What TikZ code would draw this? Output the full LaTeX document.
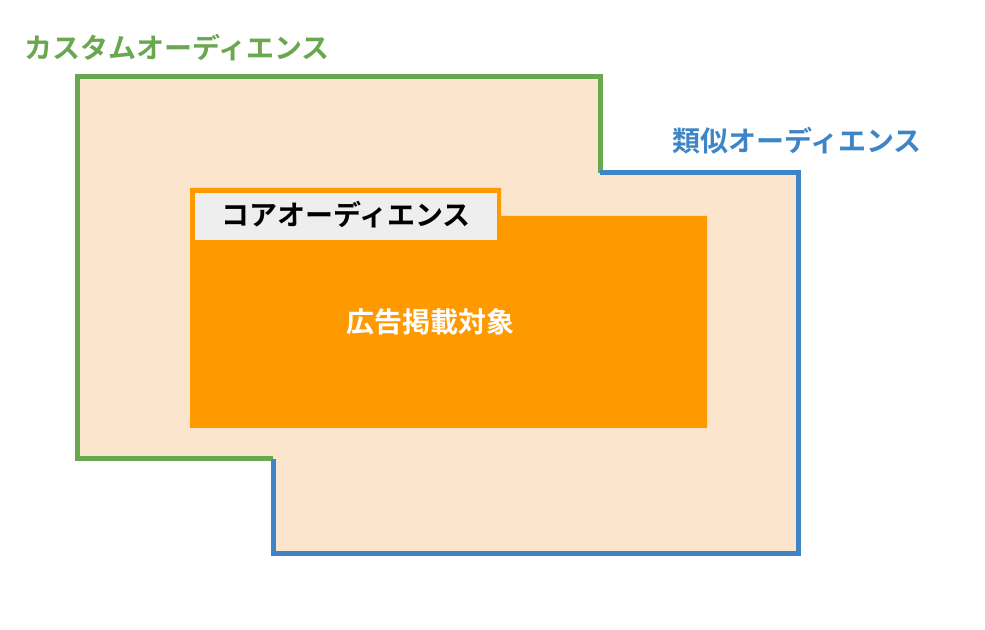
\documentclass[tikz,border=0pt]{standalone}
\usepackage{fontspec}
\newfontfamily\cjk{Noto Sans CJK JP Bold}
\definecolor{peach}{HTML}{FBE5CD}
\definecolor{gr}{HTML}{6AA84F}
\definecolor{bl}{HTML}{3D85C6}
\definecolor{org}{HTML}{FF9900}
\definecolor{lg}{HTML}{EEEEEE}
\tikzset{lbl/.style={font=\cjk\fontsize{21}{21}\selectfont, inner sep=0pt}}
\begin{document}
\begin{tikzpicture}[x=0.75pt,y=-0.75pt]
\useasboundingbox (0,0) rectangle (985,630);
\fill[peach] (77,77) -- (600,77) -- (600,173) -- (798,173) -- (798,553) -- (273,553) -- (273,459) -- (77,459) -- cycle;
\draw[gr,line width=3.75pt,line join=miter] (273,459) -- (77,459) -- (77,77) -- (600,77) -- (600,173);
\draw[bl,line width=3.75pt,line join=miter] (600,173) -- (798,173) -- (798,553) -- (273,553) -- (273,459);
\fill[org] (190,188) -- (501,188) -- (501,216) -- (707,216) -- (707,428) -- (190,428) -- cycle;
\fill[lg] (195,193) rectangle (497,240);
\node[lbl,text=gr] (custom) at (177,48) {カスタムオーディエンス};
\node[lbl,text=bl] (similar) at (797,141) {類似オーディエンス};
\node[lbl,text=black] (core) at (346,215) {コアオーディエンス};
\node[lbl,text=white] (target) at (430,322) {広告掲載対象};
\end{tikzpicture}
\end{document}
